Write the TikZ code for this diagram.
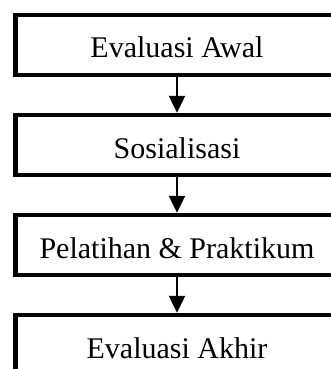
\documentclass[tikz,border=0pt]{standalone}
\usepackage{fontspec}
\setmainfont{Liberation Serif}
\usetikzlibrary{positioning,arrows.meta}

\begin{document}
\begin{tikzpicture}[
  stepbox/.style={draw=black, line width=4.5pt, minimum width=323pt, minimum height=60pt,
    text height=26pt, text depth=0pt, font=\fontsize{30}{36}\selectfont},
  flow/.style={line width=2.5pt, -{Triangle[length=17pt, width=16pt]}},
  node distance=35.5pt
]
% Frame
\useasboundingbox (-177pt,45pt) rectangle (154pt,-324pt);
\clip (-177pt,45pt) rectangle (154pt,-324pt);

% Boxes
\node[stepbox] (awal) at (0,0) {Evaluasi Awal};
\node[stepbox, below=of awal] (sosial) {Sosialisasi};
\node[stepbox, below=of sosial] (latih) {Pelatihan \& Praktikum};
\node[stepbox, below=of latih] (akhir) {Evaluasi Akhir};

% Arrows
\draw[flow] (awal) -- (sosial);
\draw[flow] (sosial) -- (latih);
\draw[flow] (latih) -- (akhir);

\end{tikzpicture}
\end{document}
